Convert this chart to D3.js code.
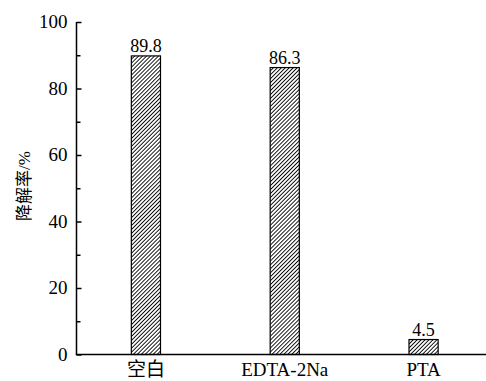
<!DOCTYPE html>
<html><head><meta charset="utf-8">
<script src="https://cdn.jsdelivr.net/npm/d3@7"></script>
<style>body{margin:0;background:#fff}svg{display:block}
text{font-family:"Liberation Serif","DejaVu Serif",serif}
text.cjk{font-family:"Liberation Serif","Noto Sans CJK SC",serif}</style>
</head><body>
<script>
const categories = ["空白", "EDTA-2Na", "PTA"];
const values = [89.8, 86.3, 4.5];
const yTicks = [0, 20, 40, 60, 80, 100];
const yMinorTicks = [10, 30, 50, 70, 90];
const yLabel = "降解率/%";

const W = 486, H = 381;
const svg = d3.select("body").append("svg").attr("width", W).attr("height", H);

const defs = svg.append("defs");
const ps = 2.8;
const pat = defs.append("pattern").attr("id", "hatch").attr("patternUnits", "userSpaceOnUse")
  .attr("width", ps).attr("height", ps).attr("patternTransform", "rotate(45)");
pat.append("rect").attr("width", ps).attr("height", ps).attr("fill", "#fff");
pat.append("line").attr("x1", 0).attr("y1", 0).attr("x2", 0).attr("y2", ps)
  .attr("stroke", "#000").attr("stroke-width", 1.8);

const x0 = 76.5, yBase = 354.5, yTop = 22;
const x = d3.scaleBand().domain(categories).range([x0, 493]).paddingInner(0.79).paddingOuter(0.395);
const y = d3.scaleLinear().domain([0, 100]).range([yBase, yTop]);

// bars
svg.selectAll("rect.bar").data(values).enter().append("rect")
  .attr("class", "bar")
  .attr("x", (d, i) => x(categories[i]))
  .attr("y", d => y(d))
  .attr("width", x.bandwidth())
  .attr("height", d => y(0) - y(d))
  .attr("fill", "url(#hatch)").attr("stroke", "#000").attr("stroke-width", 1.2);

// value labels
svg.selectAll("text.val").data(values).enter().append("text")
  .attr("class", "val")
  .attr("x", (d, i) => x(categories[i]) + x.bandwidth() / 2)
  .attr("y", d => y(d) - 4)
  .attr("text-anchor", "middle").attr("font-size", 18)
  .text(d => d.toFixed(1));

// y axis
const yAxis = d3.axisRight(y).tickValues(yTicks).tickSize(5).tickFormat("");
const gy = svg.append("g").attr("transform", `translate(${x0},0)`).call(yAxis);
gy.select(".domain").attr("stroke-width", 1.5).attr("d", `M0,${yTop}V${yBase}`);
gy.selectAll(".tick line").attr("stroke-width", 1.5);
const gym = svg.append("g").attr("transform", `translate(${x0},0)`)
  .call(d3.axisRight(y).tickValues(yMinorTicks).tickSize(4).tickFormat(""));
gym.select(".domain").remove();
gym.selectAll(".tick line").attr("stroke-width", 1.5);

svg.selectAll("text.ytick").data(yTicks).enter().append("text")
  .attr("class", "ytick")
  .attr("x", x0 - 9).attr("y", d => y(d) + 6)
  .attr("text-anchor", "end").attr("font-size", 19)
  .text(d => d);

// x axis
const xAxis = d3.axisBottom(x).tickSize(0).tickFormat("");
const gx = svg.append("g").attr("transform", `translate(0,${yBase})`).call(xAxis);
gx.select(".domain").attr("stroke-width", 1.5).attr("d", `M${x0 - 0.75},0H${W}`);

svg.selectAll("text.xcat").data(categories).enter().append("text")
  .attr("class", "cjk")
  .attr("x", d => x(d) + x.bandwidth() / 2).attr("y", 376)
  .attr("text-anchor", "middle").attr("font-size", 19)
  .text(d => d);

// y label
svg.append("text").attr("class", "cjk").attr("transform", "translate(30,186) rotate(-90)")
  .attr("text-anchor", "middle").attr("font-size", 17)
  .text(yLabel);
</script>
</body></html>
